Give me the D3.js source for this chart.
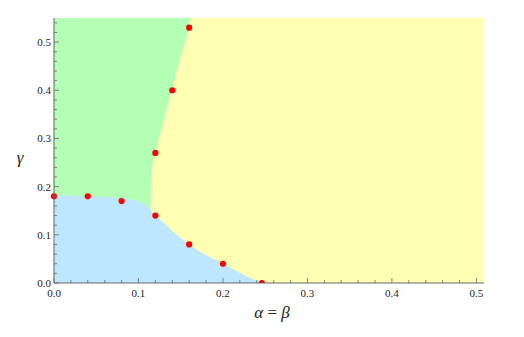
<!DOCTYPE html>
<html>
<head>
<meta charset="utf-8">
<script src="https://cdn.jsdelivr.net/npm/d3@7"></script>
<style>
  body { margin: 0; background: #fff; }
  svg { display: block; }
</style>
</head>
<body>
<svg id="chart" width="524" height="337"></svg>
<script>
// phase boundaries (alpha, gamma)
const greenYellowBoundary = [
    [0.1146, 0.150], [0.1146, 0.185], [0.1151, 0.2205], [0.1195, 0.270],
    [0.1220, 0.286], [0.1393, 0.400], [0.1495, 0.466], [0.1598, 0.530], [0.1618, 0.550]
];
const blueBoundary = [
    [0.000, 0.182], [0.040, 0.180], [0.080, 0.176], [0.100, 0.169], [0.110, 0.159],
    [0.1146, 0.150], [0.120, 0.141], [0.140, 0.108], [0.160, 0.080], [0.180, 0.058],
    [0.200, 0.040], [0.220, 0.021], [0.246, 0.000]
];
// simulation points
const pointsAlpha = [0, 0.04, 0.08, 0.12, 0.12, 0.14, 0.16, 0.16, 0.20, 0.246];
const pointsGamma = [0.18, 0.18, 0.17, 0.14, 0.27, 0.40, 0.53, 0.08, 0.04, 0.00];

const xTicks = [0, 0.1, 0.2, 0.3, 0.4, 0.5];
const yTicks = [0, 0.1, 0.2, 0.3, 0.4, 0.5];

const SERIF = "'Liberation Serif', 'Times New Roman', Times, 'DejaVu Serif', serif";

const margin = {left: 54, top: 18, right: 40, bottom: 54};
const svg = d3.select("#chart");
const W = +svg.attr("width"), H = +svg.attr("height");

const x = d3.scaleLinear().domain([0, 0.509]).range([margin.left, W - margin.right]);
const y = d3.scaleLinear().domain([0, 0.55]).range([H - margin.bottom, margin.top]);

// yellow background region
svg.append("rect")
    .attr("x", x(0)).attr("y", y(0.55))
    .attr("width", x(0.509) - x(0)).attr("height", y(0) - y(0.55))
    .style("fill", "#ffffb3");

// green region: left of the green/yellow boundary
const greenArea = d3.area()
    .curve(d3.curveMonotoneY)
    .y(d => y(d[1]))
    .x0(x(0))
    .x1(d => x(d[0]));
svg.append("path")
    .attr("d", greenArea(greenYellowBoundary))
    .style("fill", "#b3ffb3");

// blue region: below the blue boundary
const blueArea = d3.area()
    .curve(d3.curveMonotoneX)
    .x(d => x(d[0]))
    .y0(y(0))
    .y1(d => y(d[1]));
svg.append("path")
    .attr("d", blueArea(blueBoundary))
    .style("fill", "#bfe6ff");

// dots, clipped at the bottom axis
svg.append("clipPath").attr("id", "clip")
    .append("rect")
    .attr("x", x(0) - 6).attr("y", y(0.55) - 6)
    .attr("width", x(0.509) - x(0) + 12).attr("height", y(0) - y(0.55) + 6);

svg.append("g").attr("clip-path", "url(#clip)")
    .selectAll("circle")
    .data(d3.range(pointsAlpha.length))
    .join("circle")
    .attr("cx", i => x(pointsAlpha[i]))
    .attr("cy", i => y(pointsGamma[i]))
    .attr("r", 3.1)
    .style("fill", "#ff0000");

// axes (ticks pointing inward)
const axisColor = "#666";
const minorX = d3.range(0, 0.5101, 0.02).map(v => +v.toFixed(2));
const minorY = d3.range(0, 0.5501, 0.02).map(v => +v.toFixed(2));
const isMajor = v => Math.abs(v * 10 - Math.round(v * 10)) < 1e-6;

const xAxis = svg.append("g");
xAxis.append("line")
    .attr("x1", x(0)).attr("x2", x(0.509))
    .attr("y1", y(0)).attr("y2", y(0))
    .style("stroke", axisColor).style("stroke-width", 1);
xAxis.selectAll("line.tk")
    .data(minorX)
    .join("line").attr("class", "tk")
    .attr("x1", d => x(d)).attr("x2", d => x(d))
    .attr("y1", y(0)).attr("y2", d => y(0) - (isMajor(d) ? 5 : 3))
    .style("stroke", axisColor).style("stroke-width", 0.8);
xAxis.selectAll("text")
    .data(xTicks)
    .join("text")
    .attr("font-family", SERIF).attr("font-size", 11).attr("fill", "#222")
    .attr("x", d => x(d)).attr("y", y(0) + 14)
    .attr("text-anchor", "middle")
    .text(d => d.toFixed(1));

const yAxis = svg.append("g");
yAxis.append("line")
    .attr("x1", x(0)).attr("x2", x(0))
    .attr("y1", y(0)).attr("y2", y(0.55))
    .style("stroke", axisColor).style("stroke-width", 1);
yAxis.selectAll("line.tk")
    .data(minorY)
    .join("line").attr("class", "tk")
    .attr("y1", d => y(d)).attr("y2", d => y(d))
    .attr("x1", x(0)).attr("x2", d => x(0) + (isMajor(d) ? 5 : 3))
    .style("stroke", axisColor).style("stroke-width", 0.8);
yAxis.selectAll("text")
    .data(yTicks)
    .join("text")
    .attr("font-family", SERIF).attr("font-size", 11).attr("fill", "#222")
    .attr("x", x(0) - 3).attr("y", d => y(d) + 4)
    .attr("text-anchor", "end")
    .text(d => d.toFixed(1));

// axis titles
const xTitle = svg.append("text")
    .attr("font-family", SERIF).attr("font-size", 17).attr("fill", "#222")
    .attr("x", 272).attr("y", 318)
    .attr("text-anchor", "middle");
xTitle.append("tspan").attr("font-style", "italic").text("α");
xTitle.append("tspan").text(" = ");
xTitle.append("tspan").attr("font-style", "italic").text("β");

svg.append("text")
    .attr("font-family", SERIF).attr("font-size", 17).attr("fill", "#222")
    .attr("font-style", "italic")
    .attr("x", 20).attr("y", 163)
    .attr("text-anchor", "middle")
    .text("γ");
</script>
</body>
</html>
